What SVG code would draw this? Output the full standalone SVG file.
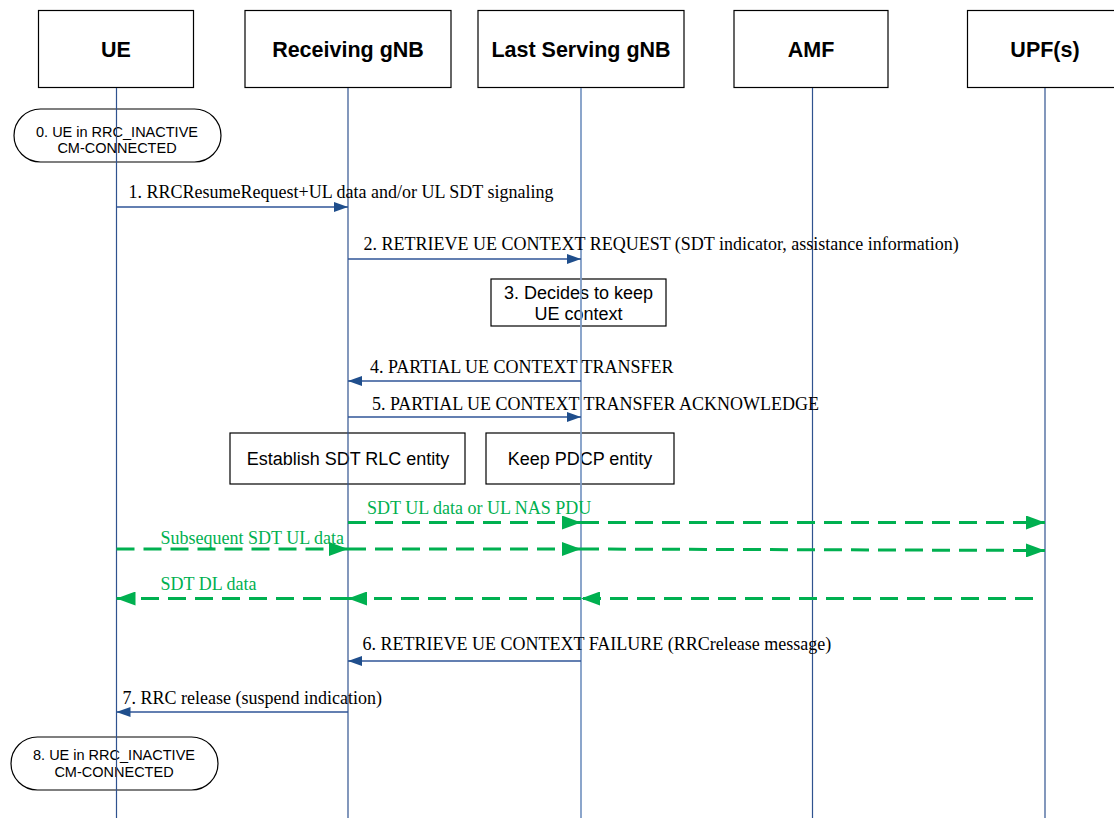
<svg xmlns="http://www.w3.org/2000/svg" width="1114" height="818" viewBox="0 0 1114 818">
<style>
.box{fill:#fff;stroke:#000;stroke-width:1.2}
.hdr{font-family:"Liberation Sans",Arial,sans-serif;font-weight:bold;font-size:21.5px;fill:#000;text-anchor:middle}
.sans{font-family:"Liberation Sans",Arial,sans-serif;font-size:18px;fill:#000;text-anchor:middle}
.small{font-family:"Liberation Sans",Arial,sans-serif;font-size:14.5px;fill:#000;text-anchor:middle}
.msg{font-family:"Liberation Serif","Times New Roman",serif;font-size:18px;fill:#000}
.gtxt{font-family:"Liberation Serif","Times New Roman",serif;font-size:18px;fill:#00B050}
.life{stroke:#2F528F;stroke-width:1.2}
.life2{stroke:#7F9CC6;stroke-width:1.8}
.arr{stroke:#2F5597;stroke-width:1.3;fill:none;marker-end:url(#ab)}
.garr{stroke:#00B050;stroke-width:3;stroke-dasharray:18 9;fill:none;marker-end:url(#ag)}
</style>
<defs>
<marker id="ab" markerUnits="userSpaceOnUse" markerWidth="14" markerHeight="10" refX="14" refY="5" orient="auto">
<path d="M0,0 L14,5 L0,10 Z" fill="#1F4E8C"/>
</marker>
<marker id="ag" markerUnits="userSpaceOnUse" markerWidth="19" markerHeight="14" refX="19" refY="7" orient="auto">
<path d="M0,0 L19,7 L0,14 Z" fill="#00B050"/>
</marker>
</defs>
<rect width="1114" height="818" fill="#fff"/>

<g id="UE">
<rect class="box" x="38.5" y="10.5" width="155" height="77"/>
<text class="hdr" x="116" y="57">UE</text>
</g>
<g id="ReceivingGNB">
<rect class="box" x="245" y="10.5" width="206" height="77"/>
<text class="hdr" x="348" y="57">Receiving gNB</text>
</g>
<g id="LastServingGNB">
<rect class="box" x="478" y="10.5" width="206" height="77"/>
<text class="hdr" x="581" y="57">Last Serving gNB</text>
</g>
<g id="AMF">
<rect class="box" x="734" y="10.5" width="154" height="77"/>
<text class="hdr" x="811" y="57">AMF</text>
</g>
<g id="UPF">
<rect class="box" x="967.5" y="10.5" width="156" height="77"/>
<text class="hdr" x="1045" y="57">UPF(s)</text>
</g>

<g id="state0">
<rect class="box" x="14" y="109" width="207" height="53" rx="26.5" ry="26.5"/>
<text class="small" x="117" y="137">0. UE in RRC_INACTIVE</text>
<text class="small" x="117" y="153">CM-CONNECTED</text>
</g>
<g id="step3">
<rect class="box" x="491" y="279" width="175" height="47"/>
<text class="sans" x="578.5" y="299">3. Decides to keep</text>
<text class="sans" x="578.5" y="320">UE context</text>
</g>
<g id="establishRLC">
<rect class="box" x="230" y="433" width="235" height="51"/>
<text class="sans" x="348" y="465">Establish SDT RLC entity</text>
</g>
<g id="keepPDCP">
<rect class="box" x="486" y="433" width="188" height="51"/>
<text class="sans" x="580" y="465">Keep PDCP entity</text>
</g>
<g id="state8">
<rect class="box" x="11" y="737" width="207" height="53" rx="26.5" ry="26.5"/>
<text class="small" x="114" y="760">8. UE in RRC_INACTIVE</text>
<text class="small" x="114" y="777">CM-CONNECTED</text>
</g>

<g id="lifelines">
<line class="life" x1="116.5" y1="88" x2="116.5" y2="818"/>
<line class="life" x1="348" y1="88" x2="348" y2="818"/>
<line class="life2" x1="581" y1="88" x2="581" y2="818"/>
<line class="life" x1="812.5" y1="88" x2="812.5" y2="818"/>
<line class="life" x1="1045" y1="88" x2="1045" y2="818"/>
</g>

<g id="connectors">
<line class="arr" x1="116.5" y1="207" x2="348" y2="207"/>
<line class="arr" x1="348" y1="259" x2="581" y2="259"/>
<line class="arr" x1="581" y1="381" x2="348" y2="381"/>
<line class="arr" x1="348" y1="417" x2="581" y2="417"/>
<line class="garr" x1="348" y1="522.5" x2="581" y2="522.5"/>
<line class="garr" x1="581" y1="522.5" x2="1045" y2="522.5"/>
<line class="garr" x1="116.5" y1="549" x2="348" y2="549"/>
<line class="garr" x1="348" y1="549" x2="581" y2="549"/>
<line class="garr" x1="581" y1="549" x2="1045" y2="550.5"/>
<line class="garr" x1="1033" y1="598.5" x2="581" y2="598.5"/>
<line class="garr" x1="581" y1="598.5" x2="348" y2="598.5"/>
<line class="garr" x1="348" y1="598.5" x2="116.5" y2="598.5"/>
<line class="arr" x1="581" y1="661" x2="348" y2="661"/>
<line class="arr" x1="348" y1="712" x2="116.5" y2="712"/>
</g>

<g id="labels">
<text class="msg" x="128.5" y="198">1. RRCResumeRequest+UL data and/or UL SDT signaling</text>
<text class="msg" x="363.5" y="250">2. RETRIEVE UE CONTEXT REQUEST (SDT indicator, assistance information)</text>
<text class="msg" x="370" y="373">4. PARTIAL UE CONTEXT TRANSFER</text>
<text class="msg" x="372" y="410">5. PARTIAL UE CONTEXT TRANSFER ACKNOWLEDGE</text>
<text class="gtxt" x="367" y="514">SDT UL data or UL NAS PDU</text>
<text class="gtxt" x="160.5" y="544">Subsequent SDT UL data</text>
<text class="gtxt" x="160.5" y="590">SDT DL data</text>
<text class="msg" x="362.5" y="649.5">6. RETRIEVE UE CONTEXT FAILURE (RRCrelease message)</text>
<text class="msg" x="122.5" y="703.5">7. RRC release (suspend indication)</text>
</g>
</svg>
